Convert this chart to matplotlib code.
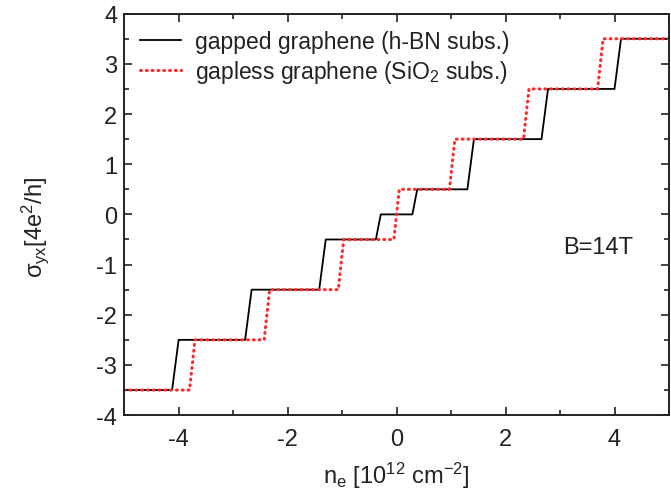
"""Hall conductivity plateaus: gapped vs gapless graphene at B=14T."""

import matplotlib
matplotlib.use("Agg")
import matplotlib.pyplot as plt
from matplotlib.ticker import MultipleLocator

plt.rcParams["font.family"] = ["Liberation Sans", "DejaVu Sans"]
plt.rcParams["mathtext.fontset"] = "custom"
plt.rcParams["mathtext.rm"] = "Liberation Sans"
plt.rcParams["mathtext.it"] = "Liberation Sans"
plt.rcParams["axes.unicode_minus"] = False

# gapped graphene (h-BN substrate), step vertices
gapped_n = [-5.0, -4.12, -4.00, -2.78, -2.66, -1.42, -1.30, -0.38, -0.29,
            0.29, 0.38, 1.30, 1.42, 2.66, 2.78, 4.00, 4.12, 5.0]
gapped_s = [-3.5, -3.5, -2.5, -2.5, -1.5, -1.5, -0.5, -0.5, 0.0,
            0.0, 0.5, 0.5, 1.5, 1.5, 2.5, 2.5, 3.5, 3.5]

# gapless graphene (SiO2 substrate)
gapless_n = [-5.0, -3.80, -3.70, -2.43, -2.33, -1.07, -0.97, -0.05, 0.05,
             0.97, 1.07, 2.33, 2.43, 3.69, 3.79, 5.0]
gapless_s = [-3.5, -3.5, -2.5, -2.5, -1.5, -1.5, -0.5, -0.5, 0.5,
             0.5, 1.5, 1.5, 2.5, 2.5, 3.5, 3.5]

INK = "#222222"


def main() -> None:
    fig = plt.figure(figsize=(6.71, 4.89), dpi=100)
    ax = fig.add_axes([0.185, 0.149, 0.812, 0.821])

    ax.plot(gapped_n, gapped_s, color="black", lw=1.3,
            label="gapped graphene (h-BN subs.)")
    ax.plot(gapless_n, gapless_s, color="#ff2a2a", lw=2.2,
            linestyle=(0, (0.3, 1.6)), dash_capstyle="round",
            label="gapless graphene (SiO$_2$ subs.)")

    ax.set_xlim(-5, 5)
    ax.set_ylim(-4, 4)
    ax.xaxis.set_major_locator(MultipleLocator(2))
    ax.xaxis.set_minor_locator(MultipleLocator(1))
    ax.yaxis.set_major_locator(MultipleLocator(1))
    ax.yaxis.set_minor_locator(MultipleLocator(0.5))
    ax.tick_params(which="both", direction="in", top=True, right=True,
                   width=1.2, labelsize=17, colors=INK)
    ax.tick_params(which="major", length=6)
    ax.tick_params(which="minor", length=3.5)
    ax.tick_params(axis="x", which="major", pad=9)
    ax.tick_params(axis="y", which="major", pad=5)
    for spine in ax.spines.values():
        spine.set_linewidth(1.4)
        spine.set_color(INK)

    ax.set_xlabel(r"n$_\mathrm{e}$ [10$^{12}$ cm$^{-2}$]", fontsize=17,
                  color=INK)
    ax.xaxis.set_label_coords(0.5, -0.11)
    ax.set_ylabel(r"$\sigma_\mathrm{yx}$[4e$^2$/h]", fontsize=17, color=INK)
    ax.yaxis.set_label_coords(-0.135, 0.47)
    ax.text(0.87, 0.42, "B=14T", transform=ax.transAxes, fontsize=17,
            ha="center", va="center", color=INK)

    leg = ax.legend(loc="upper left", frameon=False, fontsize=16.5,
                    handlelength=1.8, handletextpad=0.6, borderaxespad=0.3,
                    labelspacing=0.25, bbox_to_anchor=(0.0, 1.0))
    for t in leg.get_texts():
        t.set_color(INK)

    fig.savefig("out.png", dpi=100)
    plt.close(fig)


if __name__ == "__main__":
    main()
